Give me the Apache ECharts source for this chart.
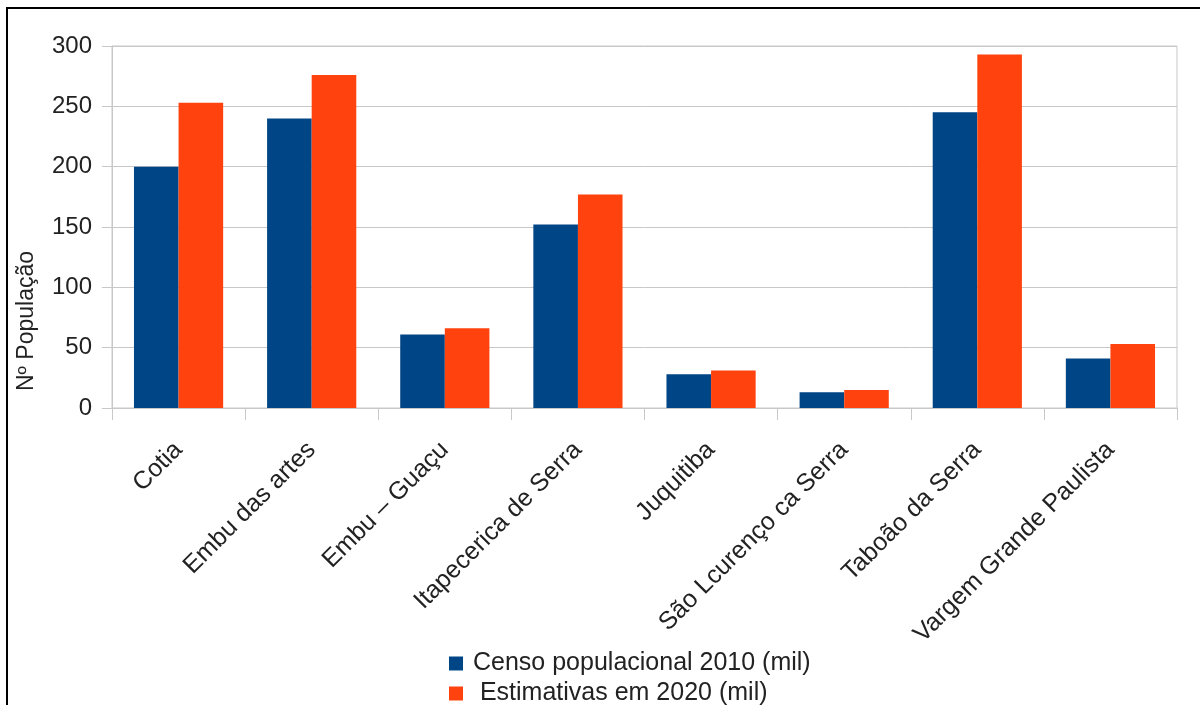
<!DOCTYPE html>
<html>
<head>
<meta charset="utf-8">
<title>População</title>
<script src="https://cdn.jsdelivr.net/npm/echarts@6/dist/echarts.min.js"></script>
<style>
  html, body { margin: 0; padding: 0; background: #fff; }
  #chart { width: 1200px; height: 705px; }
</style>
</head>
<body>
<div id="chart"></div>
<script>
// municípios
const cidades = [
  'Cotia',
  'Embu das artes',
  'Embu – Guaçu',
  'Itapecerica de Serra',
  'Juquitiba',
  'São Lcurenço ca Serra',
  'Taboão da Serra',
  'Vargem Grande Paulista'
];

// valores (mil habitantes)
const censo2010 = [200, 240, 61, 152, 28, 13, 245, 41];
const estimativa2020 = [253, 276, 66, 177, 31, 15, 293, 53];

const nomeSerie1 = 'Censo populacional 2010 (mil)';
const nomeSerie2 = ' Estimativas em 2020 (mil)';
const nomeEixoY = 'Nº População';

const fonte = 'Liberation Sans, Arial, sans-serif';

const chart = echarts.init(document.getElementById('chart'));

const option = {
  animation: false,
  backgroundColor: '#fff',
  textStyle: { fontFamily: fonte },
  grid: {
    left: 112,
    right: 23,
    top: 46,
    bottom: 297,
    show: true,
    borderColor: '#c8c8c8',
    borderWidth: 1
  },
  legend: {
    orient: 'vertical',
    left: 449,
    top: 651,
    height: 120,
    padding: 0,
    itemWidth: 14,
    itemHeight: 14,
    itemGap: 5,
    icon: 'rect',
    textStyle: {
      fontFamily: fonte,
      fontSize: 25,
      color: '#222',
      padding: [0, 0, 0, 5]
    },
    data: [nomeSerie1, nomeSerie2]
  },
  xAxis: {
    type: 'category',
    data: cidades,
    axisLine: { lineStyle: { color: '#c8c8c8' } },
    axisTick: { show: true, length: 12, lineStyle: { color: '#c8c8c8' } },
    axisLabel: {
      rotate: 45,
      interval: 0,
      margin: 38,
      fontSize: 25,
      color: '#222',
      fontFamily: fonte
    }
  },
  yAxis: {
    type: 'value',
    min: 0,
    max: 300,
    interval: 50,
    axisLine: { show: true, lineStyle: { color: '#c8c8c8' } },
    axisTick: { show: true, length: 10, lineStyle: { color: '#c8c8c8' } },
    splitLine: { lineStyle: { color: '#c8c8c8' } },
    axisLabel: {
      margin: 20,
      fontSize: 24,
      color: '#222',
      fontFamily: fonte
    }
  },
  series: [
    {
      name: nomeSerie1,
      type: 'bar',
      data: censo2010,
      barGap: '0%',
      barCategoryGap: '33%',
      itemStyle: { color: '#004586' }
    },
    {
      name: nomeSerie2,
      type: 'bar',
      data: estimativa2020,
      itemStyle: { color: '#ff420e' }
    }
  ],
  graphic: [
    {
      // moldura
      type: 'rect',
      shape: { x: 7, y: 8, width: 1300, height: 800 },
      style: { fill: 'none', stroke: '#000', lineWidth: 2 },
      silent: true
    },
    {
      type: 'text',
      x: 27,
      y: 321,
      rotation: Math.PI / 2,
      style: {
        text: nomeEixoY,
        fontFamily: fonte,
        fontSize: 23,
        fill: '#222',
        align: 'center',
        verticalAlign: 'middle'
      }
    }
  ]
};

chart.setOption(option);
</script>
</body>
</html>
